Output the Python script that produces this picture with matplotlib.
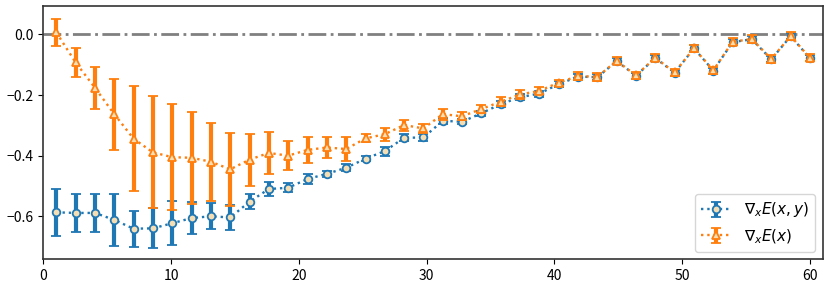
import matplotlib
matplotlib.use("Agg")
import matplotlib.pyplot as plt

plt.rcParams['font.family'] = ['Noto Sans CJK SC', 'DejaVu Sans']
plt.rcParams['mathtext.fontset'] = 'dejavusans'

# step positions
steps = [1.00, 2.51, 4.03, 5.54, 7.05, 8.56, 10.08, 11.59, 13.10, 14.62,
         16.13, 17.64, 19.15, 20.67, 22.18, 23.69, 25.21, 26.72, 28.23, 29.74,
         31.26, 32.77, 34.28, 35.79, 37.31, 38.82, 40.33, 41.85, 43.36, 44.87,
         46.38, 47.90, 49.41, 50.92, 52.44, 53.95, 55.46, 56.97, 58.49, 60.00]

# grad E(x, y)
grad_xy = [-0.587, -0.589, -0.589, -0.612, -0.641, -0.640, -0.623, -0.606, -0.600, -0.604,
           -0.552, -0.510, -0.506, -0.477, -0.460, -0.440, -0.410, -0.385, -0.341, -0.340,
           -0.285, -0.288, -0.260, -0.230, -0.207, -0.195, -0.164, -0.139, -0.141, -0.088,
           -0.136, -0.078, -0.126, -0.046, -0.119, -0.025, -0.016, -0.082, -0.006, -0.078]
err_xy = [0.078, 0.064, 0.064, 0.085, 0.059, 0.066, 0.073, 0.053, 0.043, 0.040,
          0.025, 0.023, 0.015, 0.017, 0.010, 0.012, 0.008, 0.015, 0.012, 0.012,
          0.010, 0.009, 0.009, 0.010, 0.010, 0.010, 0.010, 0.010, 0.010, 0.010,
          0.010, 0.010, 0.010, 0.010, 0.010, 0.010, 0.010, 0.010, 0.010, 0.010]

# grad E(x)
grad_x = [0.007, -0.092, -0.176, -0.263, -0.344, -0.389, -0.405, -0.407, -0.420, -0.445,
          -0.413, -0.391, -0.400, -0.381, -0.373, -0.378, -0.343, -0.329, -0.299, -0.310,
          -0.263, -0.270, -0.246, -0.222, -0.198, -0.186, -0.159, -0.137, -0.140, -0.087,
          -0.135, -0.077, -0.125, -0.046, -0.118, -0.024, -0.015, -0.081, -0.005, -0.077]
err_x = [0.045, 0.048, 0.070, 0.117, 0.173, 0.185, 0.175, 0.152, 0.128, 0.120,
         0.086, 0.068, 0.047, 0.042, 0.034, 0.040, 0.013, 0.021, 0.018, 0.014,
         0.018, 0.013, 0.014, 0.015, 0.014, 0.012, 0.010, 0.012, 0.012, 0.012,
         0.012, 0.012, 0.012, 0.012, 0.012, 0.012, 0.012, 0.012, 0.012, 0.012]

fig = plt.figure(figsize=(8.3, 2.86), dpi=100)
ax = fig.add_axes([0.0524, 0.0934, 0.9388, 0.8856])

ax.axhline(0, color='gray', linestyle='-.', linewidth=2, zorder=1)

ax.errorbar(steps, grad_xy, yerr=err_xy, fmt='o:', color='tab:blue',
            markerfacecolor='wheat', markeredgecolor='tab:blue', markersize=5.5,
            markeredgewidth=1.3, elinewidth=3, capsize=3.5, capthick=2,
            linewidth=1.7, label=r'$\nabla_x E(x,y)$', zorder=2)
ax.errorbar(steps, grad_x, yerr=err_x, fmt='^:', color='tab:orange',
            markerfacecolor='wheat', markeredgecolor='tab:orange', markersize=5.5,
            markeredgewidth=1.3, elinewidth=3, capsize=3.5, capthick=2,
            linewidth=1.7, label=r'$\nabla_x E(x)$', zorder=3)

ax.set_xlim(0, 61)
ax.set_ylim(-0.742, 0.094)
ax.set_yticks([0.0, -0.2, -0.4, -0.6])
ax.set_xticks([0, 10, 20, 30, 40, 50, 60])
ax.tick_params(labelsize=10)
for s in ax.spines.values():
    s.set_linewidth(1.2)
    s.set_color('#333333')

ax.legend(loc='lower right', fontsize=11)

fig.savefig('out.png', dpi=100)
